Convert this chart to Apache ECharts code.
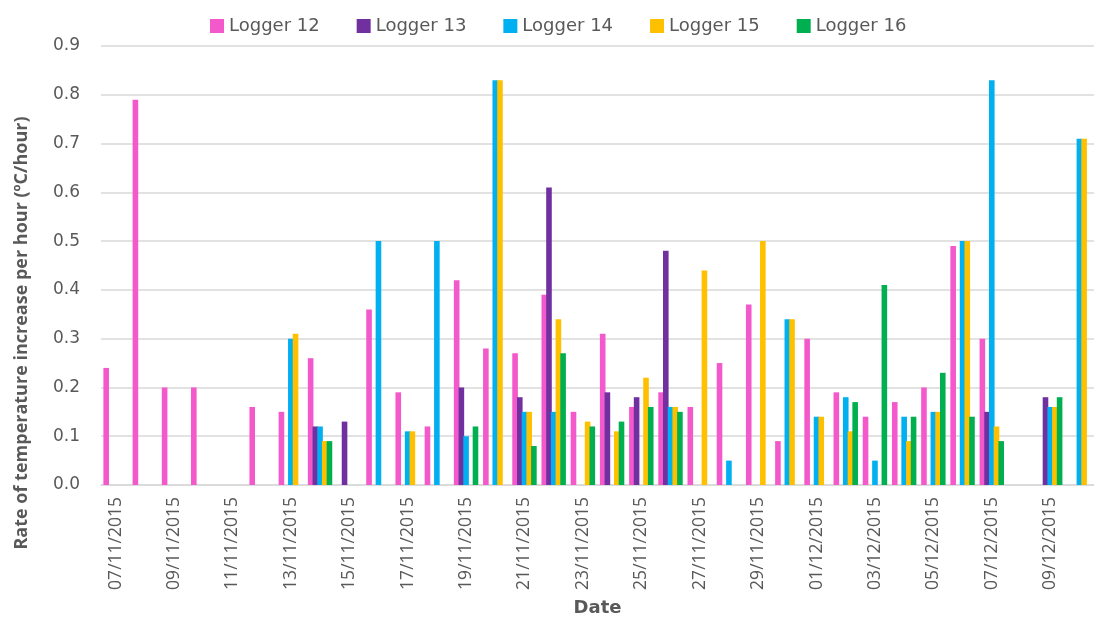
<!DOCTYPE html>
<html>
<head>
<meta charset="utf-8">
<script src="https://cdn.jsdelivr.net/npm/echarts@6/dist/echarts.min.js"></script>
<style>
  html, body { margin: 0; padding: 0; background: #fff; overflow: hidden; }
  #chart { width: 1094px; height: 623px; }
</style>
</head>
<body>
<div id="chart"></div>
<script>
// one category per day, 07/11/2015 .. 10/12/2015 (last one is cut by the frame)
const dates = [
  '07/11/2015', '08/11/2015', '09/11/2015', '10/11/2015', '11/11/2015', '12/11/2015',
  '13/11/2015', '14/11/2015', '15/11/2015', '16/11/2015', '17/11/2015', '18/11/2015',
  '19/11/2015', '20/11/2015', '21/11/2015', '22/11/2015', '23/11/2015', '24/11/2015',
  '25/11/2015', '26/11/2015', '27/11/2015', '28/11/2015', '29/11/2015', '30/11/2015',
  '01/12/2015', '02/12/2015', '03/12/2015', '04/12/2015', '05/12/2015', '06/12/2015',
  '07/12/2015', '08/12/2015', '09/12/2015', '10/12/2015',
]

const loggerNames = ['Logger 12', 'Logger 13', 'Logger 14', 'Logger 15', 'Logger 16']
const loggerColors = ['#F459CB', '#7030A0', '#00B0F0', '#FFC000', '#00B050']

const logger12 = [0.24, 0.79, 0.20, 0.20, null, 0.16, 0.15, 0.26, null, 0.36, 0.19, 0.12,
  0.42, 0.28, 0.27, 0.39, 0.15, 0.31, 0.16, 0.19, 0.16, 0.25, 0.37, 0.09,
  0.30, 0.19, 0.14, 0.17, 0.20, 0.49, 0.30, null, null, null]
const logger13 = [null, null, null, null, null, null, null, 0.12, 0.13, null, null, null,
  0.20, null, 0.18, 0.61, null, 0.19, 0.18, 0.48, null, null, null, null,
  null, null, null, null, null, null, 0.15, null, 0.18, null]
const logger14 = [null, null, null, null, null, null, 0.30, 0.12, null, 0.50, 0.11, 0.50,
  0.10, 0.83, 0.15, 0.15, null, null, null, 0.16, null, 0.05, null, 0.34,
  0.14, 0.18, 0.05, 0.14, 0.15, 0.50, 0.83, null, 0.16, 0.71]
const logger15 = [null, null, null, null, null, null, 0.31, 0.09, null, null, 0.11, null,
  null, 0.83, 0.15, 0.34, 0.13, 0.11, 0.22, 0.16, 0.44, null, 0.50, 0.34,
  0.14, 0.11, null, 0.09, 0.15, 0.50, 0.12, null, 0.16, 0.71]
const logger16 = [null, null, null, null, null, null, null, 0.09, null, null, null, null,
  0.12, null, 0.08, 0.27, 0.12, 0.13, 0.16, 0.15, null, null, null, null,
  null, 0.17, 0.41, 0.14, 0.23, 0.14, 0.09, null, 0.18, null]

const seriesData = [logger12, logger13, logger14, logger15, logger16]

const grey = '#595959'
const gridGrey = '#d9d9d9'

const chart = echarts.init(document.getElementById('chart'), null, { renderer: 'canvas' })
chart.setOption({
  animation: false,
  backgroundColor: '#fff',
  color: loggerColors,
  legend: {
    left: 205,
    top: 12,
    icon: 'rect',
    itemWidth: 14,
    itemHeight: 14,
    itemGap: 37,
    textStyle: { fontFamily: 'DejaVu Sans', fontSize: 18, color: grey },
    data: loggerNames,
  },
  // plot runs past the right edge, like the source image
  grid: { left: 101, top: 46, width: 1002, bottom: 138, containLabel: false },
  xAxis: {
    type: 'category',
    data: dates,
    boundaryGap: true,
    name: 'Date',
    nameLocation: 'middle',
    nameGap: 114,
    nameTextStyle: { fontFamily: 'DejaVu Sans', fontWeight: 'bold', fontSize: 18, color: grey },
    axisLine: { lineStyle: { color: gridGrey, width: 1.5 } },
    axisTick: { interval: 1, inside: true, length: 5, lineStyle: { color: gridGrey } },
    axisLabel: {
      interval: 1,
      rotate: 90,
      margin: 12,
      fontFamily: 'Open Sans',
      fontSize: 17.5,
      color: grey,
    },
    splitLine: { show: false },
  },
  yAxis: {
    type: 'value',
    min: 0,
    max: 0.9,
    interval: 0.1,
    axisLine: { show: false },
    axisTick: { show: false },
    axisLabel: {
      margin: 21,
      fontFamily: 'DejaVu Sans',
      fontSize: 17,
      color: grey,
      formatter: v => v.toFixed(1),
    },
    splitLine: { lineStyle: { color: gridGrey, width: 1.5 } },
  },
  graphic: [{
    type: 'text',
    x: 22,
    y: 333,
    rotation: Math.PI / 2,
    style: {
      text: 'Rate of temperature increase per hour (ºC/hour)',
      font: 'bold 18px "Open Sans"',
      fill: grey,
      align: 'center',
      verticalAlign: 'middle',
    },
  }],
  series: loggerNames.map((name, i) => ({
    name,
    type: 'bar',
    data: seriesData[i],
    barWidth: 5.6,
    barGap: '-16%',
  })),
})
</script>
</body>
</html>
